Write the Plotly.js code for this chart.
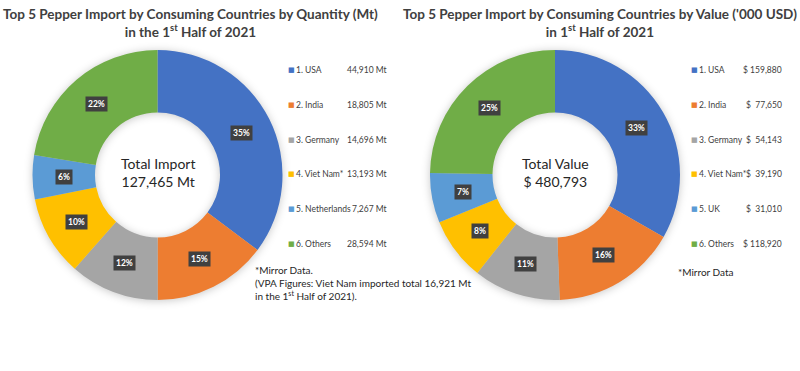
<!DOCTYPE html>
<html>
<head>
<meta charset="utf-8">
<script src="https://cdn.plot.ly/plotly-3.0.1.min.js"></script>
<style>
html,body{margin:0;padding:0;background:#fff;}
#chart{width:800px;height:371px;}
#chart .pielayer .trace{filter: drop-shadow(0px 1px 4px rgba(0,0,0,0.22));}
</style>
</head>
<body>
<div id="chart"></div>
<script>
// ---- Data ----
const qtyCountries = ["1. USA", "2. India", "3. Germany", "4. Viet Nam*", "5. Netherlands", "6. Others"];
const qtyValues = [44910, 18805, 14696, 13193, 7267, 28594];
const qtyValueLabels = ["44,910 Mt", "18,805 Mt", "14,696 Mt", "13,193 Mt", "7,267 Mt", "28,594 Mt"];
const qtyPctLabels = ["35%", "15%", "12%", "10%", "6%", "22%"];

const valCountries = ["1. USA", "2. India", "3. Germany", "4. Viet Nam*", "5. UK", "6. Others"];
const valValues = [159880, 77650, 54143, 39190, 31010, 118920];
const valValueLabels = ["159,880", "77,650", "54,143", "39,190", "31,010", "118,920"];
const valPctLabels = ["33%", "16%", "11%", "8%", "7%", "25%"];

const sliceColors = ["#4472C4", "#ED7D31", "#A5A5A5", "#FFC000", "#5B9BD5", "#70AD47"];

const titleQty = "Top 5 Pepper Import by Consuming Countries by Quantity (Mt)<br>in the 1<sup>st</sup> Half of 2021";
const titleVal = "Top 5 Pepper Import by Consuming Countries by Value ('000 USD)<br>in 1<sup>st</sup> Half of 2021";
const centerQty = "Total Import<br>127,465 Mt";
const centerVal = "Total Value<br>$ 480,793";

// ---- Layout geometry ----
const W = 800, H = 371;
const FONT = "Lato, 'Open Sans', sans-serif";
const pies = [
  {cx: 157.5, cy: 175, R: 125, hole: 0.5, labels: qtyCountries, values: qtyValues, pct: qtyPctLabels},
  {cx: 555, cy: 175, R: 125, hole: 0.5, labels: valCountries, values: valValues, pct: valPctLabels}
];

const traces = pies.map(p => ({
  type: "pie",
  labels: p.labels,
  values: p.values,
  sort: false,
  direction: "clockwise",
  rotation: 0,
  hole: p.hole,
  textinfo: "none",
  hoverinfo: "label+value+percent",
  marker: {colors: sliceColors, line: {width: 0}},
  showlegend: false,
  domain: {
    x: [(p.cx - p.R) / W, (p.cx + p.R) / W],
    y: [1 - (p.cy + p.R) / H, 1 - (p.cy - p.R) / H]
  }
}));

const annotations = [];

// percentage labels placed at ring middle, from the data
pies.forEach(p => {
  const total = p.values.reduce((a, b) => a + b, 0);
  let cum = 0;
  const rMid = p.R * (1 + p.hole) / 2;
  p.values.forEach((v, i) => {
    const mid = (cum + v / 2) / total;
    cum += v;
    const a = 2 * Math.PI * mid;
    const x = p.cx + rMid * Math.sin(a);
    const y = p.cy - rMid * Math.cos(a);
    annotations.push({
      x: x / W, y: 1 - y / H, xref: "paper", yref: "paper",
      xanchor: "center", yanchor: "middle",
      text: "<b>" + p.pct[i] + "</b>", showarrow: false,
      font: {family: FONT, size: 8.5, color: "#ffffff"},
      bgcolor: "#404040", borderpad: 2
    });
  });
});

// titles
[[titleQty, 190], [titleVal, 600]].forEach(([t, x]) => {
  annotations.push({
    x: x / W, y: 1 - 4 / H, xref: "paper", yref: "paper", xanchor: "center", yanchor: "top",
    text: "<b>" + t + "</b>", showarrow: false, align: "center",
    font: {family: FONT, size: 13.5, color: "#404040"}
  });
});

// center texts
[[centerQty, pies[0]], [centerVal, pies[1]]].forEach(([t, p]) => {
  annotations.push({
    x: p.cx / W, y: 1 - (p.cy - 3) / H, xref: "paper", yref: "paper",
    xanchor: "center", yanchor: "middle",
    text: t, showarrow: false, align: "center",
    font: {family: FONT, size: 14, color: "#262626"}
  });
});

// legends
const rowY0 = 70, rowStep = 34.8;
const legFont = {family: FONT, size: 8.5, color: "#404040"};
function addLegend(names, vals, mx, tx, valRight) {
  names.forEach((n, i) => {
    const y = 1 - (rowY0 + i * rowStep) / H;
    annotations.push({x: mx / W, y: y, xref: "paper", yref: "paper", xanchor: "center", yanchor: "middle",
      text: "■", showarrow: false, font: {family: "DejaVu Sans", size: 7, color: sliceColors[i]}});
    annotations.push({x: tx / W, y: y, xref: "paper", yref: "paper", xanchor: "left", yanchor: "middle",
      text: n, showarrow: false, font: legFont});
    annotations.push({x: valRight / W, y: y, xref: "paper", yref: "paper", xanchor: "right", yanchor: "middle",
      text: vals[i], showarrow: false, font: legFont});
  });
}
addLegend(qtyCountries, qtyValueLabels, 291, 294, 389);
const valWithDollar = valValueLabels.map(s => s.length > 6 ? "$ " + s : "$&nbsp;&nbsp;" + s);
addLegend(valCountries, valWithDollar, 694, 697, 784);

// footnotes
annotations.push({x: 253 / W, y: 1 - 262 / H, xref: "paper", yref: "paper", xanchor: "left", yanchor: "top",
  text: "*Mirror Data.<br>(VPA Figures: Viet Nam imported total 16,921 Mt<br>in the 1<sup>st</sup> Half of 2021).",
  showarrow: false, align: "left", font: {family: FONT, size: 10, color: "#262626"}});
annotations.push({x: 676 / W, y: 1 - 264 / H, xref: "paper", yref: "paper", xanchor: "left", yanchor: "top",
  text: "*Mirror Data", showarrow: false, align: "left", font: {family: FONT, size: 10, color: "#262626"}});

const layout = {
  width: W, height: H,
  margin: {l: 0, r: 0, t: 0, b: 0},
  paper_bgcolor: "#ffffff",
  plot_bgcolor: "#ffffff",
  showlegend: false,
  annotations: annotations
};

Plotly.newPlot("chart", traces, layout, {displayModeBar: false, staticPlot: true});
</script>
</body>
</html>
